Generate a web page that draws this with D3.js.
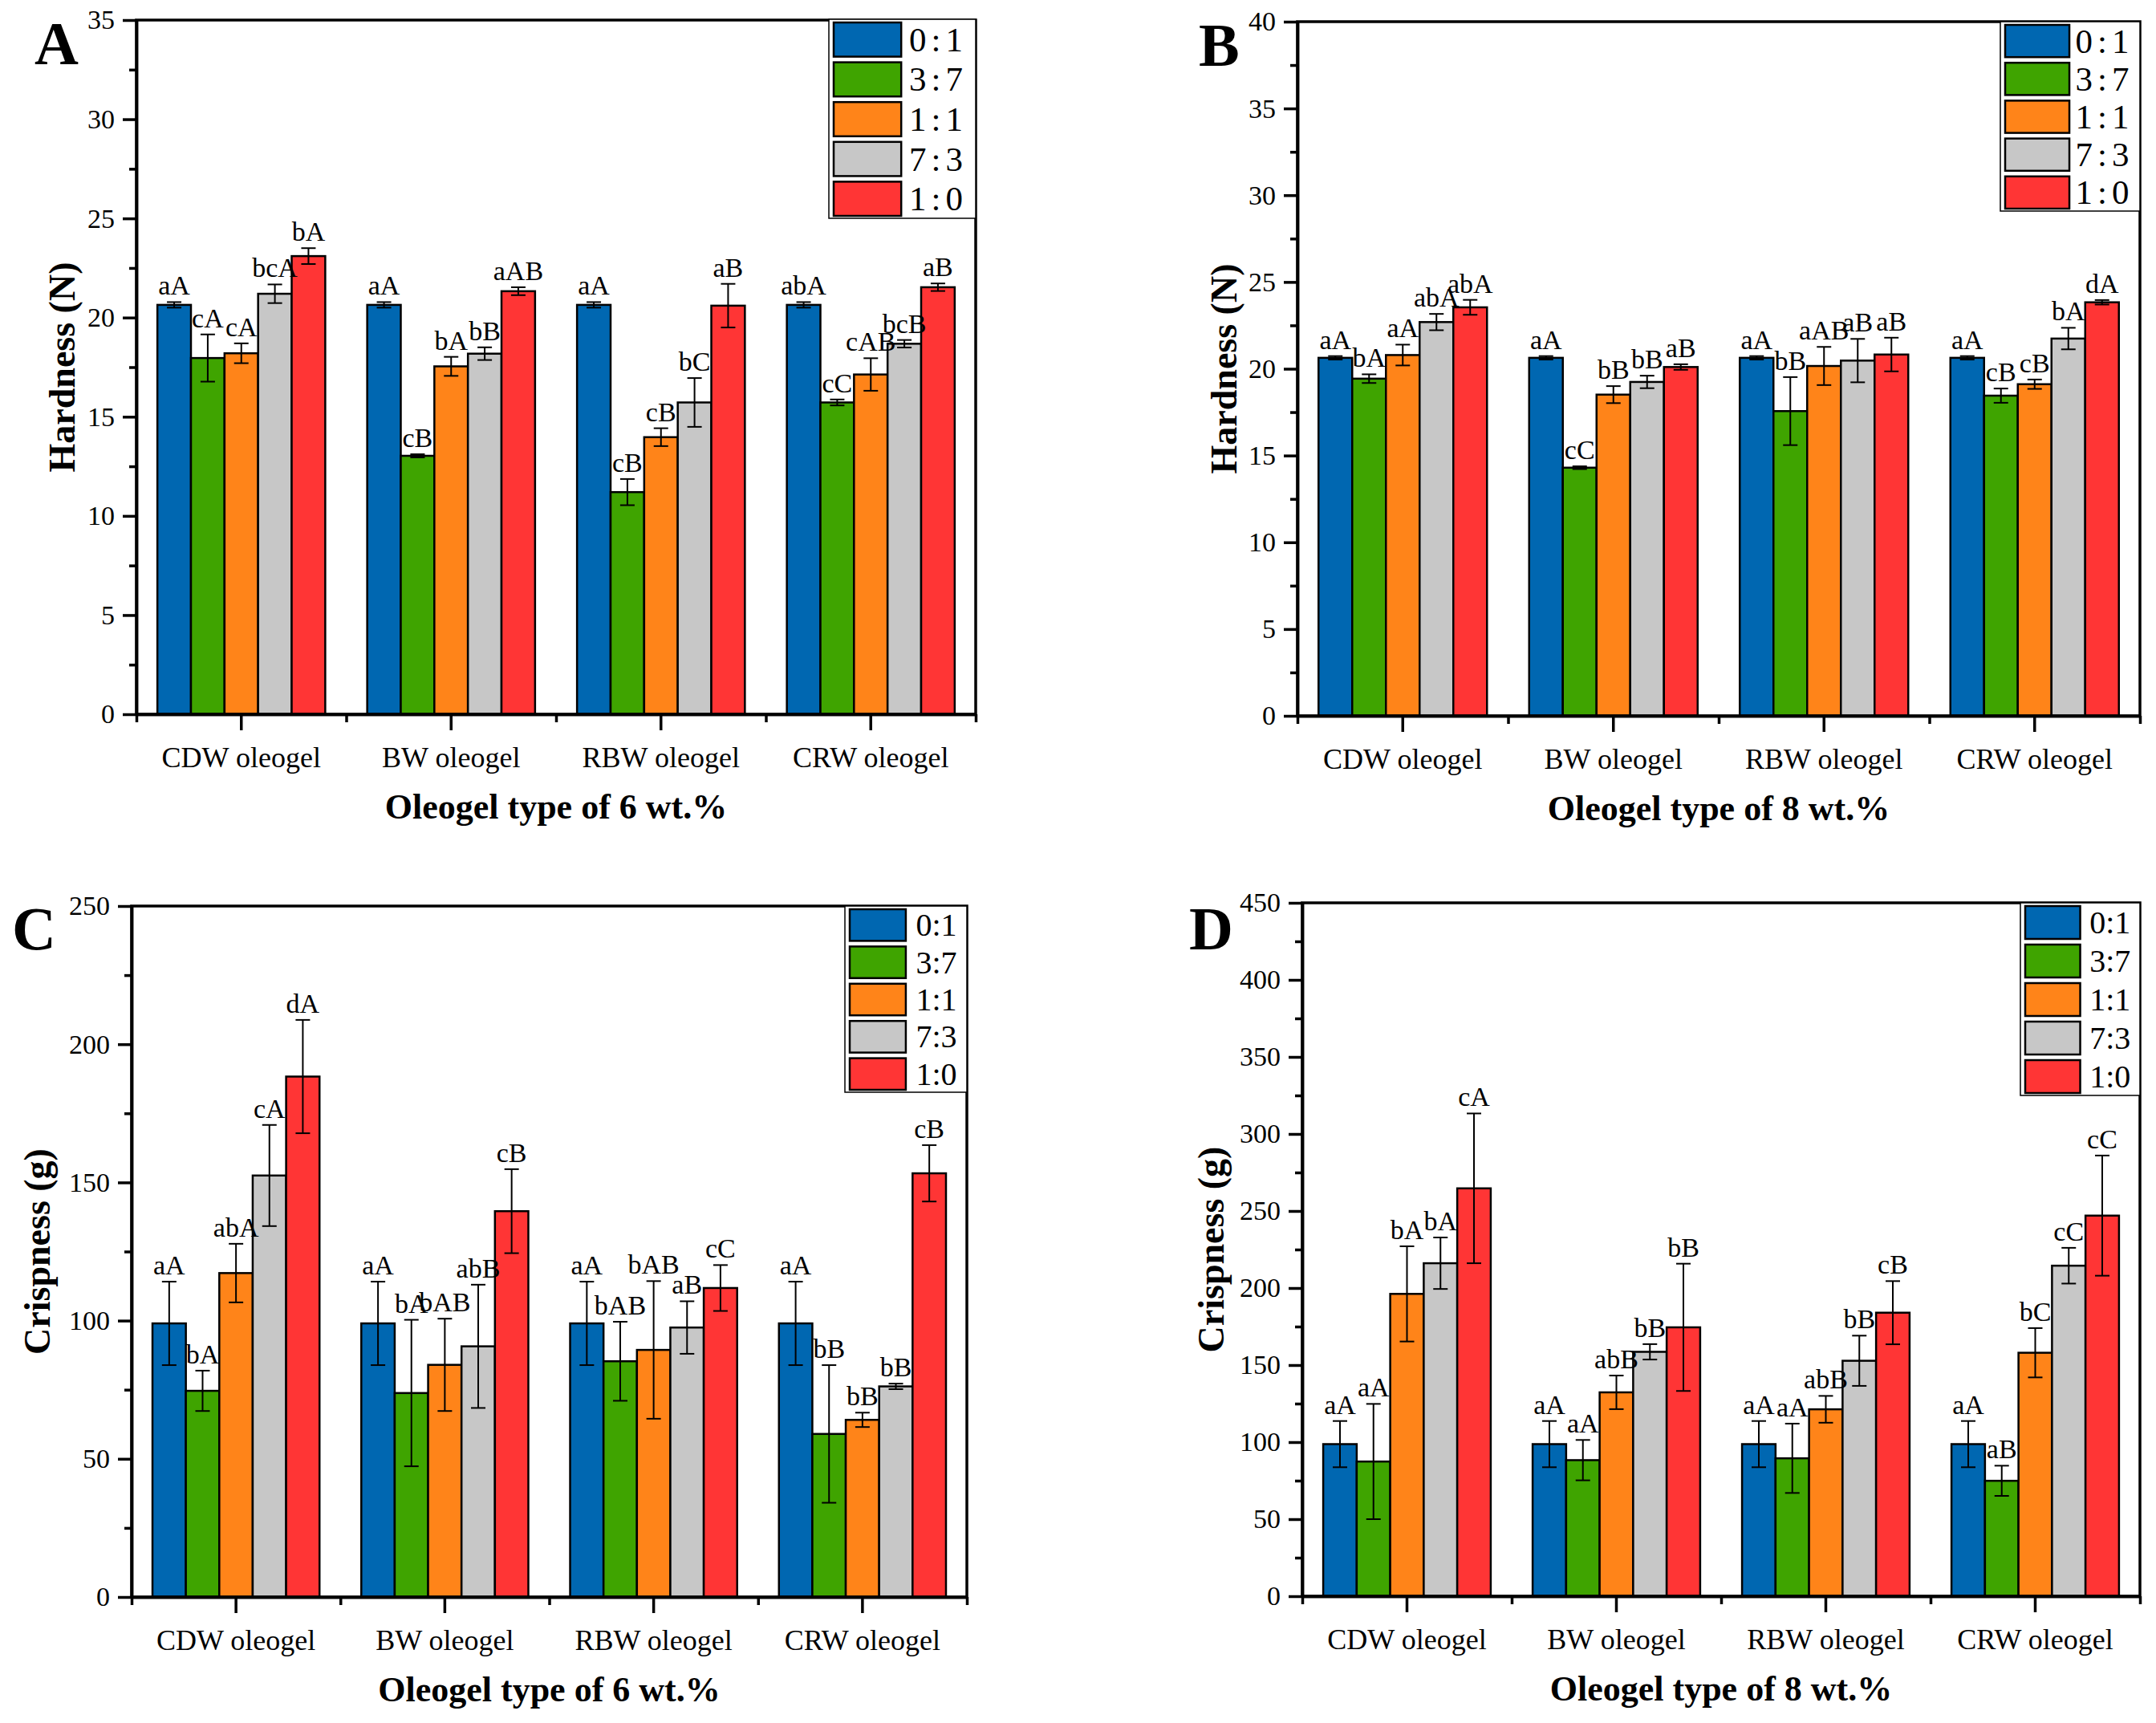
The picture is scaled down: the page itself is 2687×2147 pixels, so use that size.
<!DOCTYPE html>
<html>
<head>
<meta charset="utf-8">
<script src="https://cdnjs.cloudflare.com/ajax/libs/d3/7.8.5/d3.min.js"></script>
<style>
  body { margin: 0; background: #fff; }
  text { font-family: "Liberation Serif", "Times New Roman", serif; fill: #000; }
</style>
</head>
<body>
<svg id="svg" width="2687" height="2147"></svg>
<script>
// categories and series
var categories = ["CDW oleogel", "BW oleogel", "RBW oleogel", "CRW oleogel"];
var ratios = ["0:1", "3:7", "1:1", "7:3", "1:0"];
var colors = ["#0067b1", "#3fa400", "#ff8419", "#c7c7c7", "#ff3535"];

// A: hardness, 6 wt.%  (rows = categories, columns = ratios)
var hard6 = [[20.64, 17.96, 18.2, 21.2, 23.1],
             [20.64, 13.03, 17.54, 18.18, 21.33],
             [20.64, 11.2, 13.97, 15.72, 20.6],
             [20.64, 15.72, 17.13, 18.68, 21.53]];
var hard6Err = [[0.14, 1.19, 0.5, 0.47, 0.4],
                [0.14, 0.08, 0.48, 0.32, 0.2],
                [0.14, 0.66, 0.45, 1.23, 1.1],
                [0.14, 0.15, 0.82, 0.19, 0.19]];
var hard6Sig = [["aA", "cA", "cA", "bcA", "bA"],
                ["aA", "cB", "bA", "bB", "aAB"],
                ["aA", "cB", "cB", "bC", "aB"],
                ["abA", "cC", "cAB", "bcB", "aB"]];

// B: hardness, 8 wt.%
var hard8 = [[20.63, 19.43, 20.79, 22.69, 23.54],
             [20.63, 14.3, 18.51, 19.24, 20.1],
             [20.63, 17.56, 20.16, 20.47, 20.82],
             [20.63, 18.45, 19.11, 21.74, 23.83]];
var hard8Err = [[0.1, 0.25, 0.6, 0.47, 0.43],
                [0.1, 0.08, 0.49, 0.36, 0.16],
                [0.1, 1.96, 1.1, 1.25, 0.97],
                [0.1, 0.41, 0.27, 0.62, 0.13]];
var hard8Sig = [["aA", "bA", "aA", "abA", "abA"],
                ["aA", "cC", "bB", "bB", "aB"],
                ["aA", "bB", "aAB", "aB", "aB"],
                ["aA", "cB", "cB", "bA", "dA"]];

// C: crispness, 6 wt.%
var crisp6 = [[99.0, 74.6, 117.2, 152.5, 188.3],
              [99.0, 73.8, 84.0, 90.7, 139.6],
              [99.0, 85.3, 89.4, 97.5, 111.8],
              [99.0, 59.0, 64.1, 76.2, 153.3]];
var crisp6Err = [[15.1, 7.3, 10.6, 18.3, 20.5],
                 [15.1, 26.5, 16.7, 22.3, 15.2],
                 [15.1, 14.3, 24.9, 9.5, 8.3],
                 [15.1, 24.9, 2.6, 1.0, 10.2]];
var crisp6Sig = [["aA", "bA", "abA", "cA", "dA"],
                 ["aA", "bA", "bAB", "abB", "cB"],
                 ["aA", "bAB", "bAB", "aB", "cC"],
                 ["aA", "bB", "bB", "bB", "cB"]];

// D: crispness, 8 wt.%
var crisp8 = [[98.7, 87.4, 196.2, 216.1, 264.7],
              [98.7, 88.3, 132.3, 158.6, 174.5],
              [98.7, 89.5, 121.3, 152.8, 184.0],
              [98.7, 74.9, 158.0, 214.5, 247.0]];
var crisp8Err = [[15, 37.4, 30.9, 16.7, 48.6],
                 [15, 13.1, 10.9, 5.0, 41.3],
                 [15, 22.5, 8.7, 16.3, 20.5],
                 [15, 9.8, 16, 11.6, 39]];
var crisp8Sig = [["aA", "aA", "bA", "bA", "cA"],
                 ["aA", "aA", "abB", "bB", "bB"],
                 ["aA", "aA", "abB", "bB", "cB"],
                 ["aA", "aB", "bC", "cC", "cC"]];

var panels = [
  { letter: "A", vals: hard6, errs: hard6Err, sig: hard6Sig, yMax: 35, step: 5,
    yLabel: "Hardness (N)", xTitle: "Oleogel type of 6 wt.%",
    x0: 170, x1: 1216, y0: 25, y1: 890, lx: 43, ly: 80, ylx: 93,
    leg: { x: 1033, y: 24, w: 183, h: 248, font: 43, spacing: 6 } },
  { letter: "B", vals: hard8, errs: hard8Err, sig: hard8Sig, yMax: 40, step: 5,
    yLabel: "Hardness (N)", xTitle: "Oleogel type of 8 wt.%",
    x0: 1617, x1: 2667, y0: 27, y1: 892, lx: 1494, ly: 82, ylx: 1541,
    leg: { x: 2493, y: 27, w: 174, h: 236, font: 43, spacing: 6 } },
  { letter: "C", vals: crisp6, errs: crisp6Err, sig: crisp6Sig, yMax: 250, step: 50,
    yLabel: "Crispness (g)", xTitle: "Oleogel type of 6 wt.%",
    x0: 164, x1: 1205, y0: 1129, y1: 1990, lx: 15, ly: 1183, ylx: 62,
    leg: { x: 1053, y: 1129, w: 152, h: 232, font: 40, spacing: 0 } },
  { letter: "D", vals: crisp8, errs: crisp8Err, sig: crisp8Sig, yMax: 450, step: 50,
    yLabel: "Crispness (g)", xTitle: "Oleogel type of 8 wt.%",
    x0: 1623, x1: 2667, y0: 1125, y1: 1989, lx: 1482, ly: 1183, ylx: 1525,
    leg: { x: 2518, y: 1125, w: 149, h: 240, font: 40, spacing: 0 } }
];

var svg = d3.select('#svg');
svg.append('rect').attr('width', 2687).attr('height', 2147).attr('fill', '#fff');

panels.forEach(drawPanel);

function drawPanel(p) {
  var g = svg.append('g');

  var x = d3.scaleBand().domain(categories).range([p.x0, p.x1])
            .paddingInner(0.2).paddingOuter(0.1);
  var xi = d3.scaleBand().domain(ratios).range([0, x.bandwidth()]);
  var y = d3.scaleLinear().domain([0, p.yMax]).range([p.y1, p.y0]);

  // bars
  var groups = g.selectAll('g.cat').data(categories).enter().append('g')
    .attr('transform', function(d) { return 'translate(' + x(d) + ',0)'; });

  groups.each(function(cat, ci) {
    var gg = d3.select(this);
    var rows = ratios.map(function(r, ri) {
      return { r: r, v: p.vals[ci][ri], e: p.errs[ci][ri], s: p.sig[ci][ri], c: colors[ri] };
    });
    gg.selectAll('rect').data(rows).enter().append('rect')
      .attr('x', function(d) { return xi(d.r); })
      .attr('y', function(d) { return y(d.v); })
      .attr('width', xi.bandwidth())
      .attr('height', function(d) { return y(0) - y(d.v); })
      .attr('fill', function(d) { return d.c; })
      .attr('stroke', '#000').attr('stroke-width', 2.5);

    var cx = function(d) { return xi(d.r) + xi.bandwidth() / 2; };
    var eb = gg.selectAll('g.err').data(rows).enter().append('g')
      .attr('stroke', '#000').attr('stroke-width', 2);
    eb.append('line').attr('x1', cx).attr('x2', cx)
      .attr('y1', function(d) { return y(d.v - d.e); })
      .attr('y2', function(d) { return y(d.v + d.e); });
    eb.append('line').attr('x1', function(d) { return cx(d) - 9; })
      .attr('x2', function(d) { return cx(d) + 9; })
      .attr('y1', function(d) { return y(d.v + d.e); })
      .attr('y2', function(d) { return y(d.v + d.e); });
    eb.append('line').attr('x1', function(d) { return cx(d) - 9; })
      .attr('x2', function(d) { return cx(d) + 9; })
      .attr('y1', function(d) { return y(d.v - d.e); })
      .attr('y2', function(d) { return y(d.v - d.e); });

    gg.selectAll('text.sig').data(rows).enter().append('text')
      .attr('x', cx)
      .attr('y', function(d) { return y(d.v + d.e) - 9; })
      .attr('text-anchor', 'middle')
      .style('font-size', '34px')
      .text(function(d) { return d.s; });
  });

  // frame
  g.append('rect').attr('x', p.x0).attr('y', p.y0)
    .attr('width', p.x1 - p.x0).attr('height', p.y1 - p.y0)
    .attr('fill', 'none').attr('stroke', '#000').attr('stroke-width', 3.5);

  // y axis
  var majors = d3.range(0, p.yMax + 0.001, p.step);
  var minors = d3.range(p.step / 2, p.yMax, p.step);
  var ya = g.append('g').attr('transform', 'translate(' + p.x0 + ',0)')
    .call(d3.axisLeft(y).tickValues(majors).tickSize(17).tickSizeOuter(0).tickPadding(10));
  g.append('g').attr('transform', 'translate(' + p.x0 + ',0)')
    .call(d3.axisLeft(y).tickValues(minors).tickSize(9).tickSizeOuter(0).tickFormat(''));

  // x axis
  var xa = g.append('g').attr('transform', 'translate(0,' + p.y1 + ')')
    .call(d3.axisBottom(x).tickSize(20).tickSizeOuter(0).tickPadding(20));
  var xb = d3.scaleLinear().domain([0, categories.length]).range([p.x0, p.x1]);
  g.append('g').attr('transform', 'translate(0,' + p.y1 + ')')
    .call(d3.axisBottom(xb).tickValues(d3.range(0, categories.length + 1))
      .tickSize(10).tickSizeOuter(0).tickFormat(''));

  g.selectAll('.domain').attr('stroke', '#000').attr('stroke-width', 3.5);
  g.selectAll('.tick line').attr('stroke', '#000').attr('stroke-width', 3.5);
  ya.selectAll('.tick text').style('font-size', '34px')
    .style('font-family', '"Liberation Serif", "Times New Roman", serif');
  xa.selectAll('.tick text').style('font-size', '36px')
    .style('font-family', '"Liberation Serif", "Times New Roman", serif');

  // titles
  g.append('text')
    .attr('transform', 'translate(' + p.ylx + ',' + (p.y0 + p.y1) / 2 + ') rotate(-90)')
    .attr('text-anchor', 'middle')
    .style('font-size', '46px').style('font-weight', 'bold')
    .text(p.yLabel);
  g.append('text')
    .attr('x', (p.x0 + p.x1) / 2).attr('y', p.y1 + 130)
    .attr('text-anchor', 'middle')
    .style('font-size', '44px').style('font-weight', 'bold')
    .text(p.xTitle);
  g.append('text')
    .attr('x', p.lx).attr('y', p.ly)
    .style('font-size', '76px').style('font-weight', 'bold')
    .text(p.letter);

  // legend
  var L = p.leg;
  var lg = g.append('g');
  lg.append('rect').attr('x', L.x).attr('y', L.y).attr('width', L.w).attr('height', L.h)
    .attr('fill', '#fff').attr('stroke', '#000').attr('stroke-width', 1.5);
  var pitch = L.h / ratios.length;
  var rowsL = lg.selectAll('g.row').data(ratios).enter().append('g')
    .attr('transform', function(d, i) { return 'translate(' + L.x + ',' + (L.y + i * pitch) + ')'; });
  rowsL.append('rect').attr('x', 6).attr('y', 4)
    .attr('width', L.w * 0.46).attr('height', pitch - 7)
    .attr('fill', function(d, i) { return colors[i]; })
    .attr('stroke', '#000').attr('stroke-width', 2.5);
  rowsL.append('text')
    .attr('x', L.w * 0.46 + 6 + (L.w - L.w * 0.46 - 6) / 2).attr('y', pitch / 2)
    .attr('dy', '0.35em').attr('text-anchor', 'middle')
    .style('font-size', L.font + 'px').style('letter-spacing', L.spacing + 'px')
    .text(function(d) { return d; });
}
</script>
</body>
</html>
